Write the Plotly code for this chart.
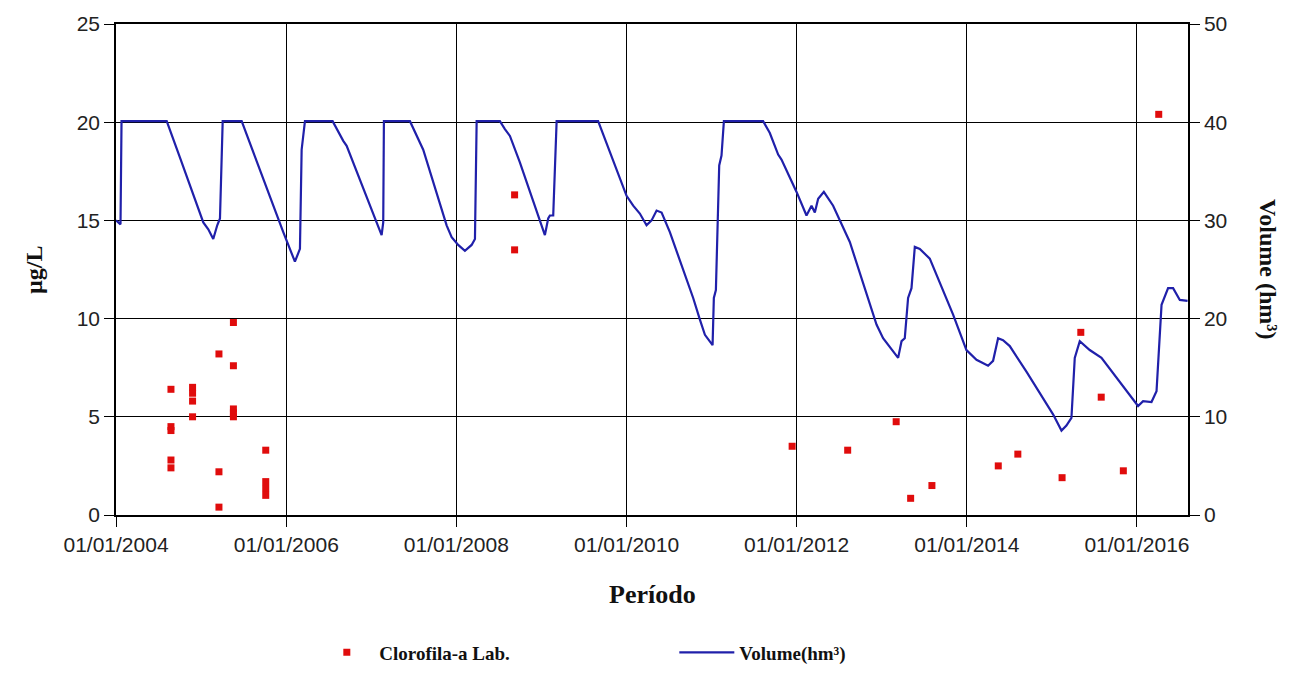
import pandas as pd
import plotly.graph_objects as go

# Reservoir volume (hm³), sampled at decimal-year instants
vol_year = [
    2004.000, 2004.035, 2004.053, 2004.065, 2004.596, 2004.752, 2004.928, 2005.026,
    2005.085, 2005.143, 2005.190, 2005.222, 2005.254, 2005.477, 2005.966, 2006.103,
    2006.162, 2006.182, 2006.221, 2006.546, 2006.671, 2006.711, 2007.063, 2007.122,
    2007.141, 2007.149, 2007.455, 2007.611, 2007.886, 2007.945, 2008.022, 2008.101,
    2008.180, 2008.219, 2008.239, 2008.512, 2008.571, 2008.630, 2008.747, 2009.041,
    2009.080, 2009.100, 2009.139, 2009.159, 2009.179, 2009.667, 2010.001, 2010.079,
    2010.157, 2010.236, 2010.295, 2010.354, 2010.413, 2010.510, 2010.784, 2010.863,
    2010.922, 2011.012, 2011.027, 2011.051, 2011.078, 2011.090, 2011.117, 2011.145,
    2011.606, 2011.685, 2011.783, 2011.822, 2011.999, 2012.116, 2012.175, 2012.214,
    2012.253, 2012.320, 2012.429, 2012.625, 2012.939, 2013.016, 2013.193, 2013.233,
    2013.271, 2013.310, 2013.350, 2013.389, 2013.448, 2013.565, 2013.839, 2013.996,
    2014.114, 2014.250, 2014.309, 2014.368, 2014.426, 2014.505, 2014.701, 2015.014,
    2015.113, 2015.171, 2015.230, 2015.269, 2015.328, 2015.445, 2015.583, 2015.877,
    2016.013, 2016.072, 2016.171, 2016.230, 2016.289, 2016.366, 2016.425, 2016.504,
    2016.595,
]
vol_hm3 = [
    30.0, 29.7, 29.6, 40.1, 40.1, 36.4, 32.2, 29.8,
    29.1, 28.1, 29.5, 30.2, 40.1, 40.1, 28.8, 25.8,
    27.1, 37.2, 40.1, 40.1, 38.1, 37.6, 29.8, 28.5,
    29.8, 40.1, 40.1, 37.2, 29.5, 28.3, 27.5, 26.9,
    27.5, 28.1, 40.1, 40.1, 39.3, 38.6, 35.9, 28.5,
    30.2, 30.5, 30.5, 35.6, 40.1, 40.1, 32.5, 31.5,
    30.7, 29.5, 30.0, 31.0, 30.8, 28.8, 22.1, 19.9,
    18.35, 17.3, 22.1, 22.9, 30.5, 35.6, 36.6, 40.1,
    40.1, 38.9, 36.7, 36.2, 32.9, 30.5, 31.5, 30.8,
    32.2, 32.9, 31.5, 27.8, 19.4, 18.0, 16.0, 17.7,
    18.0, 22.1, 23.1, 27.3, 27.1, 26.1, 20.4, 16.8,
    15.8, 15.2, 15.7, 18.0, 17.8, 17.2, 14.6, 10.25,
    8.6, 9.1, 9.9, 16.0, 17.7, 16.8, 16.0, 12.6,
    11.1, 11.6, 11.5, 12.6, 21.4, 23.1, 23.1, 21.9,
    21.8,
]

# Laboratory chlorophyll-a (µg/L)
chl_year = [
    2004.646, 2004.646, 2004.646, 2004.646, 2004.646,
    2004.900, 2004.900, 2004.900, 2004.900,
    2005.210, 2005.210, 2005.210,
    2005.380, 2005.380, 2005.380, 2005.380, 2005.380,
    2005.760, 2005.760, 2005.760, 2005.760,
    2008.685, 2008.685,
    2011.947, 2012.600, 2013.170, 2013.340, 2013.590,
    2014.370, 2014.600, 2015.120, 2015.340, 2015.580, 2015.840, 2016.256,
]
chl_ugl = [
    6.4, 4.5, 4.3, 2.8, 2.4,
    6.5, 6.2, 5.8, 5.0,
    8.2, 2.2, 0.4,
    9.8, 7.6, 5.4, 5.2, 5.0,
    3.3, 1.7, 1.35, 1.0,
    16.3, 13.5,
    3.5, 3.3, 4.75, 0.85, 1.5,
    2.5, 3.1, 1.9, 9.3, 6.0, 2.25, 20.4,
]

x_start, x_end = 2004.0, 2016.6


def to_date(years):
    base = pd.Timestamp("2004-01-01")
    return [base + pd.Timedelta(days=(y - 2004.0) * 365.25) for y in years]


SERIF = "Liberation Serif"
SANS = "Liberation Sans"

fig = go.Figure()
fig.add_trace(go.Scatter(
    x=to_date(chl_year), y=chl_ugl, mode="markers", name="<b>Clorofila-a Lab.</b>",
    marker=dict(symbol="square", size=7, color="#e00c0c"),
    yaxis="y",
))
fig.add_trace(go.Scatter(
    x=to_date(vol_year), y=vol_hm3, mode="lines", name="<b>Volume(hm³)</b>",
    line=dict(color="#2020aa", width=2.2),
    yaxis="y2",
))

axis_common = dict(
    showline=True, linecolor="black", linewidth=1.5,
    ticks="outside", ticklen=10, tickcolor="black", tickwidth=1.3,
    tickfont=dict(family=SANS, size=21, color="#222222"),
    zeroline=False,
)

fig.update_layout(
    width=1290, height=683,
    margin=dict(l=116, r=102, t=24, b=165),
    paper_bgcolor="white", plot_bgcolor="white",
    showlegend=True,
    legend=dict(
        orientation="h", x=0.185, xanchor="left", y=-0.28, yanchor="middle",
        font=dict(family=SERIF, size=19, color="#111111"),
        itemwidth=55, entrywidth=290, tracegroupgap=0,
    ),
    xaxis=dict(
        type="date",
        range=to_date([x_start, x_end]),
        tick0="2004-01-01", dtick="M24", tickformat="%d/%m/%Y",
        showgrid=True, gridcolor="black", gridwidth=1.3,
        mirror=True,
        **axis_common,
    ),
    yaxis=dict(
        range=[0, 25], dtick=5,
        showgrid=True, gridcolor="black", gridwidth=1.3,
        mirror=False,
        **axis_common,
    ),
    yaxis2=dict(
        range=[0, 50], dtick=10, overlaying="y", side="right",
        showgrid=False,
        **axis_common,
    ),
    annotations=[
        dict(text="<b>Período</b>", xref="paper", yref="paper", x=0.5, y=-0.162,
             xanchor="center", yanchor="middle", showarrow=False,
             font=dict(family=SERIF, size=26, color="#111111")),
        dict(text="<b>µg/L</b>", xref="paper", yref="paper", x=-0.077, y=0.5,
             xanchor="center", yanchor="middle", showarrow=False, textangle=-90,
             font=dict(family=SERIF, size=24, color="#111111")),
        dict(text="<b>Volume (hm³)</b>", xref="paper", yref="paper", x=1.075, y=0.5,
             xanchor="center", yanchor="middle", showarrow=False, textangle=90,
             font=dict(family=SERIF, size=24, color="#111111")),
    ],
)

fig.write_html("out.html")
